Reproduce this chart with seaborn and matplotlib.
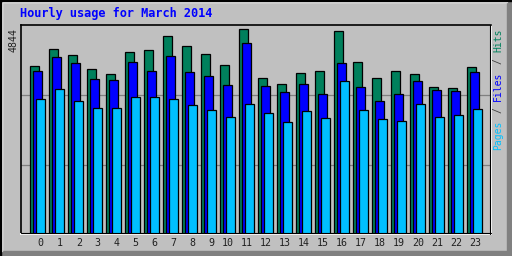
import numpy as np
import pandas as pd
import seaborn as sns
import matplotlib
matplotlib.use("Agg")
import matplotlib.pyplot as plt
from matplotlib.patches import Rectangle

# ---- data ----
hours = list(range(24))
hour_labels = [str(h) for h in hours]
hits = [3899, 4291, 4153, 3830, 3714, 4222, 4268, 4591, 4360, 4176, 3922, 4752,
        3622, 3484, 3737, 3783, 4706, 3991, 3622, 3783, 3714, 3414, 3391, 3876]
files = [3790, 4106, 3975, 3599, 3576, 3991, 3783, 4130, 3760, 3668, 3461, 4429,
         3437, 3299, 3484, 3253, 3968, 3414, 3091, 3253, 3553, 3345, 3322, 3760]
pages = [3138, 3368, 3098, 2930, 2930, 3184, 3184, 3138, 2999, 2884, 2722, 3022,
         2815, 2607, 2861, 2699, 3553, 2884, 2676, 2630, 3022, 2722, 2768, 2907]
max_label = 4844
title = "Hourly usage for March 2014"
legend_words = ["Pages", "Files", "Hits"]

C_HITS = "#00805C"
C_FILES = "#0000FF"
C_PAGES = "#00C0FF"
BG = "#C0C0C0"

sns.set_style("white")
W, H = 512, 256
fig = plt.figure(figsize=(W / 100, H / 100), dpi=100, facecolor=BG)

# axes geometry in pixels
L, R, T, B = 20.5, 490.5, 25.0, 233.5
ax = fig.add_axes([L / W, 1 - B / H, (R - L) / W, (B - T) / H])
ax.set_facecolor(BG)

hrs = np.array(hours, dtype=float)
df = pd.DataFrame({"hour": hrs, "hits": hits, "files": files, "pages": pages})
bw = 0.50
step = 3 / 19
for off, col, c in [(0, "hits", C_HITS), (step, "files", C_FILES), (2 * step, "pages", C_PAGES)]:
    sns.barplot(x=df["hour"] + off, y=df[col], native_scale=True, width=bw,
                color=c, saturation=1, edgecolor="black", linewidth=0.9,
                errorbar=None, ax=ax, zorder=3)

# y scale: 0 slightly below the frame, max label at top
ymax = max_label
ax.set_ylim(ymax * (235.3 - 233.5) / 210, ymax * (235.3 - 25.0) / 210)
ax.set_xlim((L - 34.45) / 19, (R - 34.45) / 19)
for g in [ymax / 3, 2 * ymax / 3]:
    ax.axhline(g, color="#808080", lw=0.9, zorder=1)

ax.set_xticks(hrs + 0.49)
ax.set_xticklabels(hour_labels, ha="right", family="DejaVu Sans Mono",
                   fontsize=7.2, color="#202020")
ax.tick_params(axis="x", length=0, pad=3.5)
ax.set_yticks([])
ax.set_xlabel("")
ax.set_ylabel("")
for s in ["top", "left"]:
    ax.spines[s].set_color("black")
    ax.spines[s].set_linewidth(1.2)
for s in ["bottom", "right"]:
    ax.spines[s].set_color("white")
    ax.spines[s].set_linewidth(1.4)
ax.plot([0, 1], [0.004, 0.004], transform=ax.transAxes, color="black", lw=0.8, clip_on=False, zorder=5)
ax.plot([0.999, 0.999], [0, 1], transform=ax.transAxes, color="black", lw=0.8, clip_on=False, zorder=5)

# title
fig.text(20 / W, 1 - 14 / H, title, color="#0000FF", family="DejaVu Sans Mono",
         fontweight="bold", fontsize=8.6, ha="left", va="center")
# max value label
fig.text(13.5 / W, 1 - 28 / H, str(max_label), rotation=90, ha="center", va="top",
         family="DejaVu Sans Mono", fontsize=7.2, color="#202020")

# legend on right, reading bottom to top, 6.1 px character cells
cell = 6.1
y = 150.0
colors = [C_PAGES, C_FILES, C_HITS]
for i, (word, c) in enumerate(zip(legend_words, colors)):
    fig.text(498 / W, 1 - y / H, word, rotation=90, ha="center", va="bottom",
             family="DejaVu Sans Mono", fontsize=7.0, color=c)
    y -= cell * len(word)
    if i < len(legend_words) - 1:
        y -= cell  # space
        fig.text(498 / W, 1 - (y - cell / 2) / H, "/", rotation=90, ha="center", va="center",
                 family="DejaVu Sans Mono", fontsize=7.0, color="#404040")
        y -= 2 * cell  # slash + space

# outer bevel frame
fig.patches.append(Rectangle((0, 0), 1, 5.5 / H, transform=fig.transFigure, color="#808080", zorder=0))
fig.patches.append(Rectangle((1 - 5.5 / W, 0), 5.5 / W, 1, transform=fig.transFigure, color="#808080", zorder=0))
fig.patches.append(Rectangle((0, 1 - 2 / H), 1 - 5.5 / W, 2 / H, transform=fig.transFigure, color="white", zorder=0))
fig.patches.append(Rectangle((0, 5.5 / H), 2 / W, 1, transform=fig.transFigure, color="white", zorder=0))
fig.patches.append(Rectangle((0, 1 - 1 / H), 1, 1 / H, transform=fig.transFigure, color="black", zorder=0))
fig.patches.append(Rectangle((0, 0), 1 / W, 1, transform=fig.transFigure, color="black", zorder=0))

fig.savefig("out.png", dpi=100, facecolor=BG)
